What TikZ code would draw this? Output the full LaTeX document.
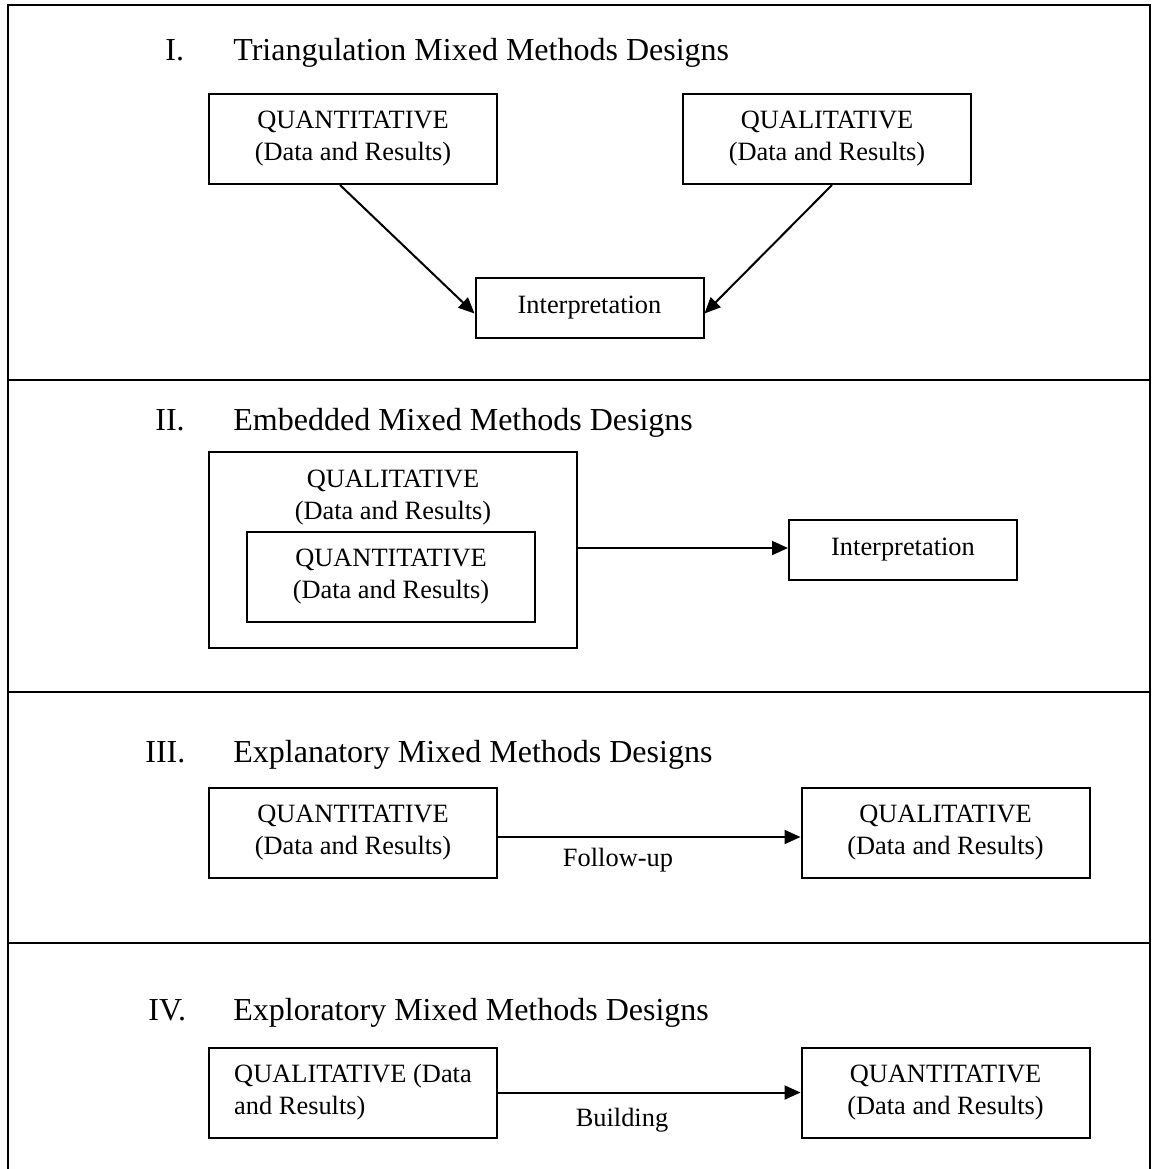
\documentclass[tikz,border=0pt]{standalone}
\usepackage{fontspec}
\setmainfont{Liberation Serif}
\usetikzlibrary{arrows.meta,calc}
\begin{document}
\begin{tikzpicture}[x=0.5pt,y=-0.5pt,
  every node/.style={font=\fontsize{13.2}{16}\selectfont},
  box/.style={draw,line width=1pt,align=center,inner sep=0pt,minimum width=144pt,minimum height=45pt},
  smallbox/.style={draw,line width=1pt,inner sep=0pt,minimum width=114pt,minimum height=30pt},
  frame/.style={draw,line width=1pt,inner sep=0pt},
  heading/.style={font=\fontsize{16}{19}\selectfont,anchor=base west,inner sep=0pt},
  link/.style={line width=1pt,-{Triangle[length=8pt,width=7pt]}},
  rule/.style={line width=1pt}]
\useasboundingbox (0,0) rectangle (1152,1169);
\clip (0,0) rectangle (1152,1169);

% outer frame and section dividers
\draw[rule] (8,5) rectangle (1150,1200);
\draw[rule] (8,380) -- (1150,380);
\draw[rule] (8,692) -- (1150,692);
\draw[rule] (8,943) -- (1150,943);

% I. Triangulation
\node[heading] (n1) at (165,60) {I.};
\node[heading] (h1) at (233,60) {Triangulation Mixed Methods Designs};
\node[box] (s1qn) at (353,139) {QUANTITATIVE\\(Data and Results)};
\node[box] (s1ql) at (827,139) {QUALITATIVE\\(Data and Results)};
\node[smallbox] (s1int) at (589.5,307.5) {Interpretation};
\draw[link] ($(s1qn.south)+(-13,0)$) -- ($(s1int.west)+(0,6)$);
\draw[link] ($(s1ql.south)+(5,0)$) -- ($(s1int.east)+(0,6)$);

% II. Embedded
\node[heading] (n2) at (155,430) {II.};
\node[heading] (h2) at (233,430) {Embedded Mixed Methods Designs};
\node[frame,minimum width=184pt,minimum height=98pt] (s2out) at (393,550) {};
\node[align=center] (s2qltxt) at (393,497.5) {QUALITATIVE\\(Data and Results)};
\node[box] (s2qn) at (391,577) {QUANTITATIVE\\(Data and Results)};
\node[smallbox] (s2int) at (903,550) {Interpretation};
\draw[link] ($(s2out.east)+(0,-2)$) -- ($(s2int.west)+(0,-2)$);

% III. Explanatory
\node[heading] (n3) at (145,762) {III.};
\node[heading] (h3) at (233,762) {Explanatory Mixed Methods Designs};
\node[box] (s3qn) at (353,833) {QUANTITATIVE\\(Data and Results)};
\node[box] (s3ql) at (945.5,833) {QUALITATIVE\\(Data and Results)};
\draw[link] ($(s3qn.east)+(0,4)$) -- ($(s3ql.west)+(0,4)$);
\node (s3lbl) at (618,860) {Follow-up};

% IV. Exploratory
\node[heading] (n4) at (148,1020) {IV.};
\node[heading] (h4) at (233,1020) {Exploratory Mixed Methods Designs};
\node[box,align=left] (s4ql) at (353,1092.5) {QUALITATIVE (Data\\and Results)};
\node[box] (s4qn) at (945.5,1092.5) {QUANTITATIVE\\(Data and Results)};
\draw[link] (s4ql.east) -- (s4qn.west);
\node (s4lbl) at (622,1120) {Building};
\end{tikzpicture}
\end{document}
